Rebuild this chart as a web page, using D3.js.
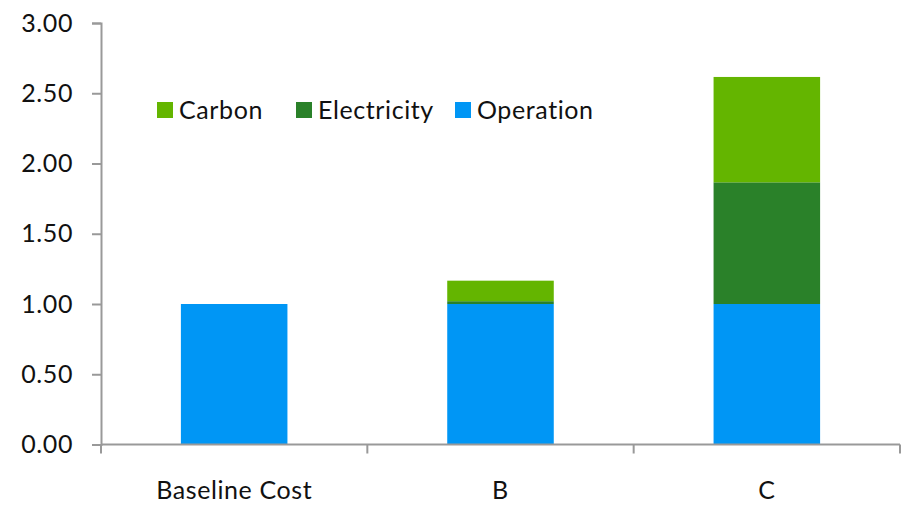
<!DOCTYPE html>
<html><head><meta charset="utf-8">
<script src="https://cdn.jsdelivr.net/npm/d3@7"></script>
<style>body{margin:0;background:#fff}svg{display:block}text{font-family:Lato,"Noto Sans",sans-serif;fill:#111;letter-spacing:0.6px}</style>
</head><body><svg id="c" width="901" height="505"></svg>
<script>
const categories = ["Baseline Cost", "B", "C"];
const seriesNames = ["Operation", "Electricity", "Carbon"];
const operation = [1.00, 1.00, 1.00];
const electricity = [0.00, 0.02, 0.866];
const carbon = [0.00, 0.146, 0.75];
const yTicks = [0, 0.5, 1.0, 1.5, 2.0, 2.5, 3.0];
const legendOrder = ["Carbon", "Electricity", "Operation"];
const colors = {Operation: "#0096f5", Electricity: "#2a8129", Carbon: "#64b500"};

const svg = d3.select("#c");
const x = d3.scaleBand().domain(categories).range([101, 900]).paddingInner(0.6).paddingOuter(0.3);
const y = d3.scaleLinear().domain([0, 3]).range([444.5, 23]);

const rows = categories.map((c, i) => ({cat: c, Operation: operation[i], Electricity: electricity[i], Carbon: carbon[i]}));
const stack = d3.stack().keys(seriesNames)(rows);

svg.append("g").selectAll("g").data(stack).join("g")
  .attr("fill", d => colors[d.key])
  .selectAll("rect").data(d => d).join("rect")
  .attr("x", d => x(d.data.cat))
  .attr("width", x.bandwidth())
  .attr("y", d => y(d[1]))
  .attr("height", d => Math.max(0, y(d[0]) - y(d[1])));

// y axis
const yAxis = svg.append("g").attr("transform", "translate(101,0)")
  .call(d3.axisLeft(y).tickValues(yTicks).tickFormat(d3.format(".2f")).tickSize(9).tickPadding(19));
yAxis.select(".domain").attr("stroke", "#999").attr("stroke-width", 2);
yAxis.selectAll(".tick line").attr("stroke", "#999").attr("stroke-width", 2);
yAxis.selectAll(".tick text").style("font-size", "25px").attr("fill", "#111");

// x axis
const step = x.step();
const gap = (step - x.bandwidth()) / 2;
const xg = svg.append("g");
xg.append("line").attr("x1", 101).attr("x2", 900).attr("y1", y(0)).attr("y2", y(0)).attr("stroke", "#999").attr("stroke-width", 2);
const bounds = categories.map(c => x(c) - gap).concat([x(categories[categories.length-1]) + x.bandwidth() + gap]);
xg.selectAll("line.t").data(bounds).join("line").attr("class", "t")
  .attr("x1", d => d).attr("x2", d => d).attr("y1", y(0)).attr("y2", y(0) + 9)
  .attr("stroke", "#999").attr("stroke-width", 2);
xg.selectAll("text").data(categories).join("text")
  .attr("x", d => x(d) + x.bandwidth() / 2).attr("y", 499)
  .attr("text-anchor", "middle").style("font-size", "25px").text(d => d);

// legend
const legendX = [157, 296, 455];
const lg = svg.append("g");
legendOrder.forEach((k, i) => {
  lg.append("rect").attr("x", legendX[i]).attr("y", 102).attr("width", 16).attr("height", 16).attr("fill", colors[k]);
  lg.append("text").attr("x", legendX[i] + 22).attr("y", 119).style("font-size", "25px").text(k);
});
</script></body></html>
